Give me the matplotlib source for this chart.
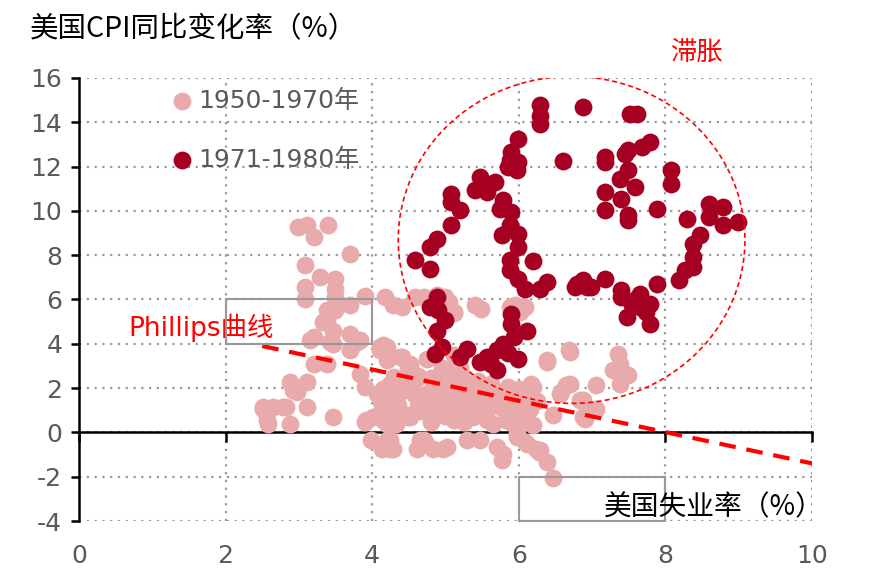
import matplotlib
matplotlib.use('Agg')
import matplotlib.pyplot as plt
import matplotlib.patches as mpatches
import matplotlib.transforms as mtransforms

plt.rcParams['font.family'] = ['DejaVu Sans', 'Noto Sans CJK SC']
plt.rcParams['axes.unicode_minus'] = False

# --- data -------------------------------------------------------------------
x_ticks = [0, 2, 4, 6, 8, 10]
y_ticks = [-4, -2, 0, 2, 4, 6, 8, 10, 12, 14, 16]

label_early = '1950-1970年'
label_late = '1971-1980年'

# 1950-1970 (unemployment %, CPI yoy %)
early_x = [
    2.99, 3.11, 3.40, 3.20, 3.70, 3.08, 3.29, 3.49, 3.08, 3.49, 3.08, 3.49, 3.90, 3.70, 3.38,
    3.49, 3.38, 3.33, 4.17, 4.29, 4.58, 4.40, 4.99, 5.11, 5.40, 5.49, 6.08, 5.95, 5.06, 5.88,
    3.20, 3.47, 3.70, 3.79, 3.42, 4.15, 3.83, 4.11, 4.20, 4.38, 4.52, 3.20, 3.38, 3.15, 3.47,
    3.70, 4.11, 4.20, 4.49, 3.83, 3.90, 4.06, 4.24, 4.33, 4.52, 4.70, 4.26, 4.49,
    2.88, 3.11, 2.92, 2.97, 2.51, 2.65, 2.79, 3.11, 2.56, 2.88, 2.58, 2.51, 2.83, 3.47, 3.92,
    4.11, 4.29, 4.52, 3.90, 4.01, 4.20, 4.33,
    3.99, 4.20, 4.29, 4.13, 4.65, 4.61, 4.83, 4.97, 4.74, 5.02, 5.29, 5.47, 5.70, 5.77, 5.97,
    6.11, 6.27, 6.38, 6.47, 6.08, 6.29, 5.97,
    4.74, 4.92, 4.92, 5.11, 5.11, 5.29, 5.29, 5.47, 5.56, 5.56, 5.74, 5.74, 5.83, 5.97, 6.06,
    5.65, 5.47, 4.60, 4.85, 5.00, 4.80, 4.65, 5.20, 5.35, 5.90, 6.08,
    5.11, 5.20, 6.70, 6.38, 6.20, 6.65, 6.56, 7.06, 7.29, 7.36, 7.38, 7.49, 7.38, 6.88, 6.97,
    6.47, 6.88, 6.70, 6.58, 6.17, 6.15, 6.83, 7.06, 6.90, 6.38, 6.68,
    4.75, 4.95, 4.70, 4.88, 5.05, 5.11, 6.02,
    4.30, 4.45, 4.62, 4.80, 5.05, 5.25, 5.45, 5.62, 5.85, 6.00,
    4.15, 4.40, 4.58, 4.98, 5.18, 5.38, 5.58, 5.80, 6.05, 6.25,
    4.12, 4.35, 4.62, 4.85, 5.00, 5.18, 5.42, 5.62, 5.85, 6.15,
    4.15, 4.49, 4.80, 5.00, 5.25, 5.38, 5.65, 5.90, 6.20,
    4.20, 4.40, 4.52, 5.17, 6.15, 4.24, 4.24, 4.70, 5.79, 5.97, 6.24,
]
early_y = [
    9.27, 9.35, 9.35, 8.82, 8.07, 7.54, 7.01, 6.94, 6.56, 6.49, 6.04, 6.11, 6.18, 5.73, 5.51,
    5.51, 5.06, 4.98, 6.11, 5.73, 6.11, 5.66, 6.11, 5.43, 5.73, 5.58, 5.66, 5.73, 5.43, 5.66,
    4.30, 4.60, 4.46, 4.08, 4.08, 3.93, 4.15, 3.85, 3.78, 3.40, 3.10, 3.10, 3.10, 4.15, 4.00,
    3.70, 3.70, 3.25, 2.95, 2.65, 2.05, 1.74, 2.20, 1.59, 1.90, 1.44, 1.14, 0.69,
    2.27, 2.27, 1.90, 1.82, 1.14, 1.14, 1.14, 1.14, 0.54, 0.39, 0.39, 1.07, 1.14, 0.69, 0.54,
    0.84, 0.54, 0.69, 0.47, 0.69, 0.39, 0.39,
    -0.36, -0.36, -0.74, -0.74, -0.36, -0.74, -0.74, -0.74, -0.51, -0.66, -0.36, -0.36, -0.66, -1.26, -0.06,
    -0.51, -0.89, -1.34, -2.05, -0.44, -0.81, 0.09,
    1.74, 1.44, 0.84, 0.54, 1.74, 1.59, 0.99, 1.44, 0.54, 0.99, 1.14, 1.74, 0.54, 0.99, 0.69,
    1.90, 2.05, 2.40, 2.20, 2.60, 1.10, 0.95, 2.10, 1.20, 1.45, 0.77,
    3.48, 2.95, 3.63, 3.17, 2.05, 2.12, 1.74, 2.12, 2.80, 3.55, 3.10, 2.57, 2.20, 1.44, 0.99,
    0.77, 0.69, 2.20, 1.82, 2.20, 1.74, 1.44, 1.07, 0.62, 3.25, 3.70,
    3.30, 2.90, 6.10, 6.20, 5.90, 5.37, 5.43,
    2.50, 2.35, 2.55, 2.45, 2.35, 2.50, 2.30, 2.20, 2.05, 1.95,
    1.95, 1.85, 1.70, 1.95, 1.80, 1.85, 1.65, 1.60, 1.55, 1.40,
    1.35, 1.25, 1.20, 1.30, 1.20, 1.30, 1.00, 1.30, 1.20, 1.05,
    0.55, 0.77, 0.45, 0.75, 0.45, 0.70, 0.40, 0.45, 0.35,
    3.85, 3.40, 3.03, 3.03, 2.05, -0.36, -0.74, -0.36, -0.96, -0.21, -0.74,
]

# 1971-1980
late_x = [
    6.29, 6.29, 6.29, 6.88, 5.99, 5.90, 5.88, 5.99, 5.97, 5.85, 6.60,
    5.47, 5.68, 5.40, 5.56, 5.79, 5.90, 5.74, 5.08, 5.08, 5.20, 5.08, 4.88, 4.79, 4.58, 4.79,
    5.88, 5.99, 5.77, 5.99, 5.88, 5.88, 6.19, 5.99, 6.08, 6.29, 6.38, 6.79, 6.93,
    4.88, 4.79, 4.90, 4.99, 4.88, 4.95, 4.86, 5.29, 5.20, 5.90, 5.90, 6.11, 5.93, 5.79, 5.70,
    5.56, 5.47, 5.99, 5.70, 5.62, 5.85,
    7.52, 7.61, 7.79, 7.68, 7.49, 7.45, 7.18, 7.18, 7.49, 7.38, 7.59, 7.18, 7.40, 7.18, 7.49,
    7.49, 7.88, 8.08, 8.08, 8.29, 8.59, 8.79, 8.59, 8.79, 8.99, 8.47, 8.38, 8.38, 8.38, 8.27,
    8.18,
    6.77, 6.88, 6.99, 7.18, 7.40, 7.40, 7.65, 7.88, 7.54, 7.79, 7.74, 7.47, 7.79, 7.65, 7.60,
]
late_y = [
    14.76, 14.30, 13.94, 14.69, 13.26, 12.66, 12.28, 12.20, 11.83, 12.00, 12.23,
    11.53, 11.30, 10.93, 10.85, 10.47, 9.95, 10.10, 10.78, 10.40, 10.02, 9.35, 8.74, 8.37, 7.77, 7.39,
    9.35, 8.97, 8.89, 8.37, 7.77, 7.31, 7.72, 6.94, 6.49, 6.49, 6.79, 6.71, 6.56,
    6.11, 5.66, 5.51, 5.06, 4.60, 3.85, 3.55, 3.78, 3.40, 5.36, 4.91, 4.60, 4.30, 4.00, 3.70,
    3.40, 3.17, 3.33, 2.80, 3.10, 3.60,
    14.39, 14.39, 13.10, 12.88, 12.73, 12.55, 12.43, 12.20, 11.83, 11.45, 11.07, 10.85, 10.55, 10.02, 9.80,
    9.57, 10.10, 11.83, 11.23, 9.65, 10.32, 10.17, 9.72, 9.35, 9.50, 8.89, 8.52, 7.91, 7.46, 7.31,
    6.86,
    6.56, 6.86, 6.56, 6.94, 6.41, 6.11, 6.26, 6.71, 5.73, 5.81, 5.43, 5.20, 4.91, 5.66, 6.00,
]

# Phillips curve (straight dashed trend) end points
phillips_x = [2.5, 10.0]
phillips_y = [3.9, -1.4]

# stagflation ellipse: centre, width, height
stag_center = (6.72, 8.69)
stag_width = 4.73
stag_height = 14.76

# --- figure -----------------------------------------------------------------
color_early = '#E8AAAA'
color_late = '#A50021'
color_text = '#595959'
color_red = '#FF0000'
color_box = '#999999'
marker_size = 165

fig = plt.figure(figsize=(8.69, 5.85), dpi=100)
ax = fig.add_axes([0.0909, 0.1094, 0.8435, 0.7573])

ax.scatter(early_x, early_y, s=marker_size, color=color_early, linewidths=0, zorder=3,
           label=label_early)
ax.scatter(late_x, late_y, s=marker_size, color=color_late, linewidths=0, zorder=4,
           label=label_late)

ax.plot(phillips_x, phillips_y, color=color_red, linewidth=3, dashes=(4, 2.6), zorder=5)

ax.add_patch(mpatches.Ellipse(stag_center, stag_width, stag_height, fill=False,
                              edgecolor=color_red, linewidth=1.2, linestyle=(0, (3, 2)),
                              zorder=5))

# leftover empty text boxes from the original sheet
ax.add_patch(mpatches.Rectangle((2, 4), 2, 2, fill=False, edgecolor=color_box,
                                linewidth=1.5, zorder=6))
ax.add_patch(mpatches.Rectangle((6, -4), 2, 2, fill=False, edgecolor=color_box,
                                linewidth=1.5, zorder=6, clip_on=False))

ax.set_xlim(0, 10)
ax.set_ylim(-4, 16)
ax.set_xticks(x_ticks)
ax.set_yticks(y_ticks)
ax.grid(True, color='#999999', linestyle=(0, (1, 2.5)), linewidth=1.6, zorder=0)
ax.set_axisbelow(True)

for side in ['top', 'right']:
    ax.spines[side].set_visible(False)
ax.spines['bottom'].set_position(('data', 0))
ax.spines['bottom'].set_linewidth(1.8)
ax.spines['left'].set_linewidth(1.8)
ax.tick_params(axis='x', direction='out', length=7, width=1.8, labelbottom=False)
ax.tick_params(axis='y', direction='out', length=6, width=1.8, labelsize=18,
               labelcolor=color_text, pad=6)

# x tick labels sit under the plot, not on the zero axis
trans = mtransforms.blended_transform_factory(ax.transData, ax.transAxes)
for v in x_ticks:
    ax.text(v, -0.08, f'{v}', transform=trans, ha='center', va='center',
            fontsize=18, color=color_text)

# texts
fig.text(30 / 869, 1 - 29 / 585, '美国CPI同比变化率（%）', fontsize=20.5,
         family=['Noto Sans CJK SC'], ha='left', va='center', color='black')
ax.text(0.67, 4.7, 'Phillips曲线', fontsize=19, color=color_red, ha='left', va='center')
ax.text(8.44, 17.15, '滞胀', fontsize=19, color=color_red, ha='center', va='center',
        family=['Noto Sans CJK SC'], clip_on=False)
ax.text(10.16, -3.39, '美国失业率（%）', fontsize=20, color='black', ha='right', va='center',
        family=['Noto Sans CJK SC'], zorder=7, clip_on=False)

ax.legend(loc='upper left', bbox_to_anchor=(0.1235, 0.975), frameon=False,
          fontsize=18, labelcolor=color_text, handlelength=1.0, handletextpad=0.15,
          labelspacing=1.4, borderpad=0, borderaxespad=0, scatterpoints=1)

plt.savefig('out.png', dpi=100, facecolor='white')
plt.close(fig)
